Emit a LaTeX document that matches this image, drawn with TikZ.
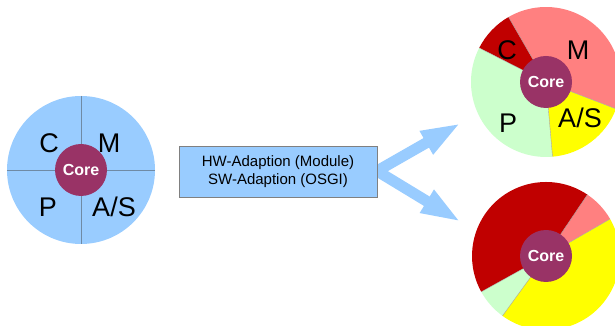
\documentclass[tikz,border=0pt]{standalone}
\usepackage{fontspec}
\setmainfont{Liberation Sans}
\usetikzlibrary{arrows.meta}
\definecolor{lblue}{HTML}{99CCFF}
\definecolor{corec}{HTML}{993366}
\definecolor{dred}{HTML}{C00000}
\definecolor{salmon}{HTML}{FF8080}
\definecolor{lgreen}{HTML}{CCFFCC}
\definecolor{yel}{HTML}{FFFF00}
\definecolor{divline}{HTML}{6F8AA5}
\begin{document}
\begin{tikzpicture}[x=1pt,y=1pt,
  corenode/.style={circle, fill=corec, minimum size=52pt, inner sep=0pt, text=white,
    font=\fontsize{16}{16}\selectfont\bfseries},
  letter/.style={inner sep=0pt, font=\fontsize{27}{27}\selectfont},
  bigarrow/.style={draw=lblue, line width=11pt, -{Triangle[length=40pt,width=24pt]}},
  sectorline/.style={draw=black!35, line width=0.4pt}]
\useasboundingbox (0,0) rectangle (615,326);
\clip (0,0) rectangle (615,326);

% left circle
\node[circle, fill=lblue, minimum size=148pt, inner sep=0pt] (left) at (81,156) {};
\draw[divline, line width=0.5pt] (left.north) -- (left.south);
\draw[divline, line width=0.5pt] (left.west) -- (left.east);
\node[corenode] (lcore) at (81,156) {Core};
\node[letter] (lC) at (49,183) {C};
\node[letter] (lM) at (109,183) {M};
\node[letter] (lP) at (48,119) {P};
\node[letter] (lAS) at (114,119) {A/S};

% arrows
\coordinate (fork) at (377,155);
\coordinate (ut) at (461,203);
\coordinate (lt) at (461,104);
\draw[bigarrow] (fork) -- (ut);
\draw[bigarrow] (fork) -- (lt);

% box
\node[draw=black!50, fill=lblue, line width=0.5pt, minimum width=198pt, minimum height=51pt,
  align=center, inner sep=0pt, font=\fontsize{15}{18}\selectfont] (box) at (278,154.5)
  {HW-Adaption (Module)\\SW-Adaption (OSGI)};

% top right pie
\coordinate (tr) at (546,244);
\fill[salmon] (tr) -- ++(-21:75) arc[start angle=-21, end angle=120, radius=75pt] -- cycle;
\fill[dred] (tr) -- ++(120:75) arc[start angle=120, end angle=153, radius=75pt] -- cycle;
\fill[lgreen] (tr) -- ++(153:75) arc[start angle=153, end angle=275, radius=75pt] -- cycle;
\fill[yel] (tr) -- ++(275:75) arc[start angle=275, end angle=339, radius=75pt] -- cycle;
\foreach \a in {-21,120,153,275} \draw[sectorline] (tr) -- ++(\a:75);
\node[corenode] (trcore) at (tr) {Core};
\node[letter] (tC) at (507,276) {C};
\node[letter] (tM) at (578,276) {M};
\node[letter] (tP) at (508,203) {P};
\node[letter] (tAS) at (580,208) {A/S};

% bottom right pie
\coordinate (br) at (546,70);
\fill[salmon] (br) -- ++(30:74) arc[start angle=30, end angle=56, radius=74pt] -- cycle;
\fill[dred] (br) -- ++(56:74) arc[start angle=56, end angle=209, radius=74pt] -- cycle;
\fill[lgreen] (br) -- ++(209:74) arc[start angle=209, end angle=234, radius=74pt] -- cycle;
\fill[yel] (br) -- ++(234:74) arc[start angle=234, end angle=390, radius=74pt] -- cycle;
\foreach \a in {30,56,209,234} \draw[sectorline] (br) -- ++(\a:74);
\node[corenode] (brcore) at (br) {Core};
\end{tikzpicture}
\end{document}
